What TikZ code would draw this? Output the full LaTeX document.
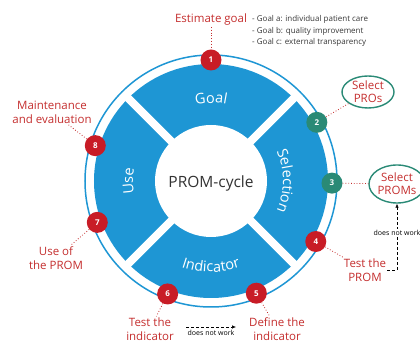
\documentclass[tikz,border=0pt]{standalone}
\usepackage{fontspec}
\setmainfont{Open Sans}
\usetikzlibrary{shapes.geometric,decorations.text,arrows.meta,positioning}
\definecolor{ringblue}{RGB}{30,150,212}
\definecolor{pinred}{RGB}{200,28,38}
\definecolor{pinteal}{RGB}{42,138,118}
\definecolor{labelred}{RGB}{196,46,46}
\definecolor{listgray}{RGB}{55,55,55}

\begin{document}
\begin{tikzpicture}[x=1pt, y=1pt,
    pin/.style={circle, minimum size=21pt, inner sep=0pt, text=white, font=\fontsize{8}{8}\selectfont\bfseries},
    steplabel/.style={text=labelred, align=center, font=\fontsize{11.5}{14}\selectfont, inner sep=1pt},
    proset/.style={ellipse, draw=pinteal, line width=1.4pt, inner sep=0pt, text=labelred, align=center, font=\fontsize{11.5}{13}\selectfont},
    dotlink/.style={labelred, dotted, line width=0.8pt},
    nowork/.style={densely dashed, line width=0.6pt, -{Latex[length=4pt, width=3.5pt]}},
    noworktext/.style={fill=white, inner sep=1pt, font=\fontsize{7}{7}\selectfont},
    ringtext/.style={decorate, decoration={text along path, text align=center, text color=white, text={|\fontsize{14.5}{14.5}\selectfont|#1}}}
  ]
  \useasboundingbox (-211,-163) rectangle (209,181);
  % the ring
  \draw[ringblue, line width=1.5pt] (0,0) circle[radius=126];
  \fill[ringblue] (0,0) circle[radius=117];
  \foreach \a in {45,135,225,315}
    \draw[white, line width=8pt] (\a:50) -- (\a:120);
  \fill[white] (0,0) circle[radius=56];
  \node[font=\fontsize{15.5}{16}\selectfont, text=black!80] (cycle) at (0,-2) {PROM-cycle};
  \path[ringtext=Goal] (120:78) arc[start angle=120, end angle=60, radius=78];
  \path[ringtext=Selection] (38:72) arc[start angle=38, end angle=-38, radius=72];
  \path[ringtext=Use] (200:78) arc[start angle=200, end angle=160, radius=78];
  \path[ringtext=Indicator] (238:91) arc[start angle=238, end angle=302, radius=91];
  % numbered steps
  \foreach \n/\a/\c in {1/90/pinred, 2/29/pinteal, 3/-1/pinteal, 4/-30/pinred,
                        5/-68/pinred, 6/-111/pinred, 7/200/pinred, 8/163/pinred}
    \node[pin, fill=\c] (m\n) at (\a:121) {\n};
  % labels
  \node[steplabel] (estimate) at (0,161) {Estimate goal};
  \node[anchor=west, align=left, text=listgray, inner sep=0pt,
        font=\fontsize{8}{11.5}\selectfont] (goals) at (41,150)
        {- Goal a: individual patient care\\- Goal b: quality improvement\\- Goal c: external transparency};
  \node[proset, minimum width=52pt, minimum height=32pt] (spros) at (157,89) {Select\\PROs};
  \node[proset, minimum width=56pt, minimum height=38pt] (sproms) at (186,-3) {Select\\PROMs};
  \node[steplabel] (tprom) at (154,-89) {Test the\\PROM};
  \node[steplabel] (dind) at (66,-148) {Define the\\indicator};
  \node[steplabel] (tind) at (-61,-148) {Test the\\indicator};
  \node[steplabel] (useprom) at (-155,-77) {Use of\\the PROM};
  \node[steplabel] (maint) at (-159,69) {Maintenance\\and evaluation};
  % links
  \draw[dotlink] (estimate) -- (m1);
  \draw[dotlink] (m2) -- (spros);
  \draw[dotlink] (m3) -- (sproms);
  \draw[dotlink] (m4) -- (tprom);
  \draw[dotlink] (m5) -- (dind);
  \draw[dotlink] (m6) -- (tind);
  \draw[dotlink] (m7) -- (useprom);
  \draw[dotlink] (m8) -- (maint);
  % does not work
  \draw[nowork] (tprom.east) -| (sproms.south) node[noworktext, pos=0.78] (nwup) {does not work};
  \coordinate (nwa) at (-25,-146);
  \coordinate (nwb) at (25,-146);
  \draw[nowork] (nwa) -- (nwb) node[noworktext, midway, below=2pt] (nwlow) {does not work};
\end{tikzpicture}
\end{document}
